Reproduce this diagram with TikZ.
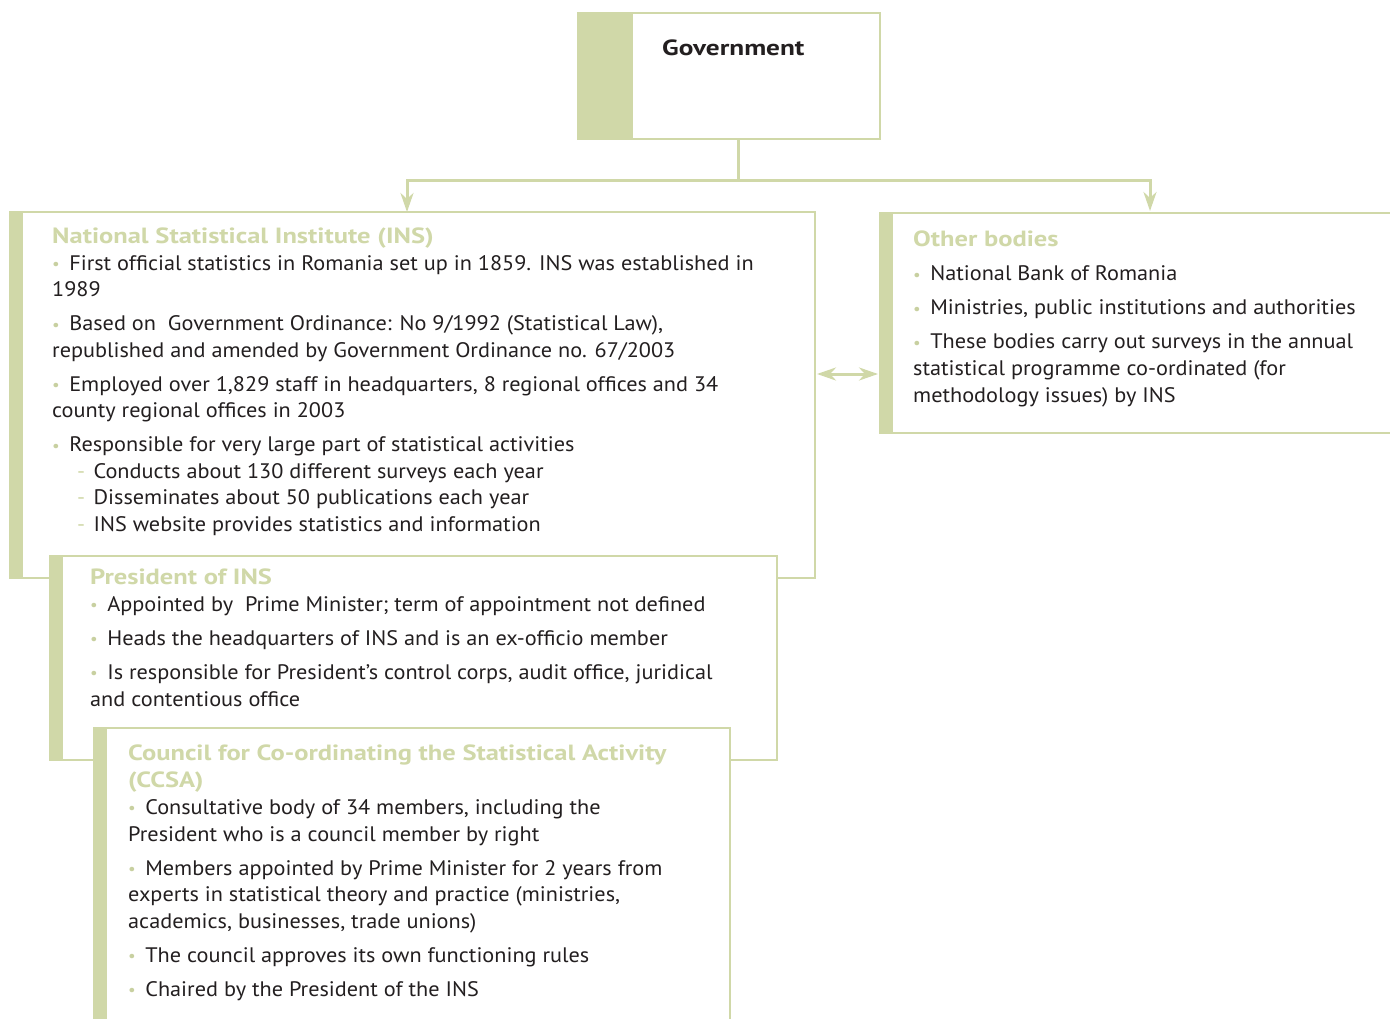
\documentclass[tikz,border=0pt]{standalone}
\usepackage{fontspec}
\setmainfont[FakeStretch=1.06]{PT Sans}
\newfontfamily\headfont[FakeStretch=1.205]{PT Sans Bold}
\newfontfamily\govfont[FakeStretch=1.24]{PT Sans Bold}
\usetikzlibrary{arrows.meta}
\definecolor{gr}{RGB}{208,216,168}
\definecolor{bulc}{RGB}{200,208,160}
\definecolor{tx}{RGB}{35,31,32}
\newcommand{\bul}{{\color{bulc}\fontsize{16}{16}\selectfont\raisebox{0.1ex}{•}}\hspace{0.45em}}
\newcommand{\dsh}{\hspace*{25pt}{\color{gr}-}\hspace{0.4em}}
\newcommand{\hd}[1]{{\color{gr}\headfont\fontsize{22}{26.7}\selectfont #1}}
\tikzset{
  box/.style={draw=gr, line width=2pt, fill=white, rectangle, inner sep=0pt, outer sep=0pt, anchor=north west},
  bar/.style={path picture={\fill[gr] (path picture bounding box.north west) rectangle ([xshift=#1]path picture bounding box.south west);}},
  body/.style={anchor=north west, align=left, inner sep=0pt, text=tx, font=\fontsize{21}{26.7}\selectfont},
  conn/.style={draw=gr, line width=3pt},
  tip/.style={-{Stealth[length=19pt,width=13pt,inset=6pt]}},
}
\begin{document}
\begin{tikzpicture}[x=1pt,y=-1pt]
\useasboundingbox (0,0) rectangle (1390,1019);
\clip (0,0) rectangle (1390,1019);
% Government
\node[box, bar=55pt, minimum width=302pt, minimum height=126pt] (gov) at (578,13) {};
\node[anchor=west, inner sep=0pt, text=tx, font=\govfont\fontsize{22}{26}\selectfont] (govt) at (662,48) {Government};
% INS
\node[box, bar=13pt, minimum width=805pt, minimum height=366pt] (ins) at (10,212) {};
\node[body, font=\fontsize{21}{26.45}\selectfont] (inst) at (52,228) {\hd{National Statistical Institute (INS)}\\
\bul First official statistics in Romania set up in 1859. INS was established in\\
1989\\[7.6pt]
\bul Based on\ \ Government Ordinance: No 9/1992 (Statistical Law),\\
republished and amended by Government Ordinance no. 67/2003\\[7.6pt]
\bul Employed over 1,829 staff in headquarters, 8 regional offices and 34\\
county regional offices in 2003\\[7.6pt]
\bul Responsible for very large part of statistical activities\\
\dsh Conducts about 130 different surveys each year\\
\dsh Disseminates about 50 publications each year\\
\dsh INS website provides statistics and information};
% Other bodies
\node[box, bar=13pt, minimum width=560pt, minimum height=220pt] (ob) at (880,213) {};
\node[body] (obt) at (913,231) {\hd{Other bodies}\\[7.3pt]
\bul National Bank of Romania\\[7.3pt]
\bul Ministries, public institutions and authorities\\[7.3pt]
\bul These bodies carry out surveys in the annual\\
statistical programme co-ordinated (for\\
methodology issues) by INS};
% President
\node[box, bar=13pt, minimum width=727pt, minimum height=204pt] (pres) at (50,556) {};
\node[body] (prest) at (90,569) {\hd{President of INS}\\
\bul Appointed by\ \ Prime Minister; term of appointment not defined\\[7.3pt]
\bul Heads the headquarters of INS and is an ex-officio member\\[7.3pt]
\bul Is responsible for President’s control corps, audit office, juridical\\
and contentious office};
% CCSA
\node[box, bar=13pt, minimum width=636pt, minimum height=340pt] (ccsa) at (94,728) {};
\node[body] (ccsat) at (128,745) {\hd{Council for Co-ordinating the Statistical Activity}\\
\hd{(CCSA)}\\
\bul Consultative body of 34 members, including the\\
President who is a council member by right\\[7.3pt]
\bul Members appointed by Prime Minister for 2 years from\\
experts in statistical theory and practice (ministries,\\
academics, businesses, trade unions)\\[7.3pt]
\bul The council approves its own functioning rules\\[7.3pt]
\bul Chaired by the President of the INS};
% connectors
\coordinate (j) at (738,181);
\coordinate (obin) at (1150,211);
\draw[conn] (j |- gov.south) -- (j);
\draw[conn, tip] (j) -| ([xshift=-5.5pt]ins.north);
\draw[conn, tip] (j) -| (obin);
\draw[conn, {Stealth[length=19pt,width=13pt,inset=6pt]}-{Stealth[length=19pt,width=13pt,inset=6pt]}] ([xshift=2pt,yshift=21pt]ins.east) -- ([xshift=-2pt,yshift=-51pt]ob.west);
\end{tikzpicture}
\end{document}
